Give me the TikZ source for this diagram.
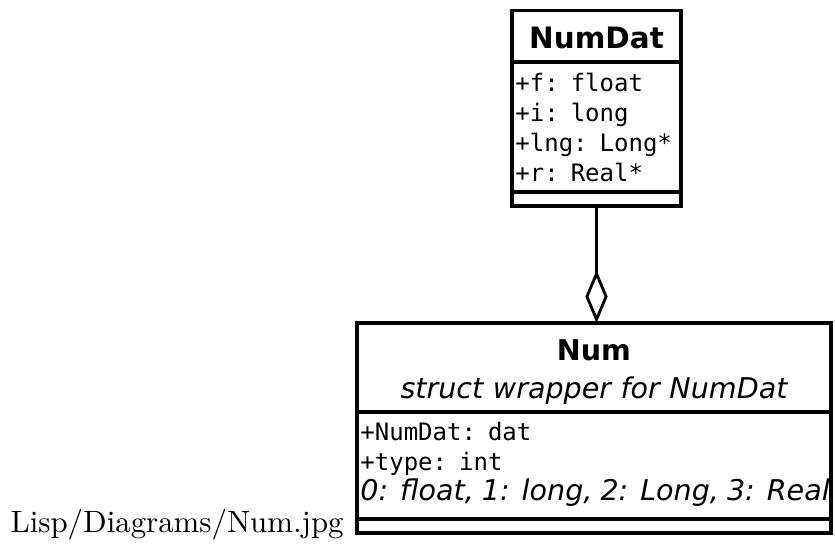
\documentclass[tikz,border=0pt]{standalone}
\usepackage{fontspec}
\newfontfamily\umlsans{DejaVu Sans}
\newfontfamily\umlmono{DejaVu Sans Mono}
\usetikzlibrary{arrows.meta, positioning}
\tikzset{
  classbox/.style={
    rectangle,
    draw=black,
    line width=1.3pt,
    outer sep=0pt,
    inner xsep=1.2pt,
    inner ysep=0pt
  },
  classname/.style={
    classbox,
    align=center,
    font=\umlsans\bfseries\fontsize{10}{13.3}\selectfont
  },
  classattr/.style={
    classbox,
    align=left,
    font=\umlmono\fontsize{8.4}{10.45}\selectfont
  },
  aggregation/.style={
    line width=1pt,
    -{Diamond[open, length=18.5pt, width=7.8pt]}
  }
}

\begin{document}
\begin{tikzpicture}
  \useasboundingbox (0,0) rectangle (292.25pt,-191.1pt);

  % NumDat
  \node[classname, font=\umlsans\bfseries\fontsize{10.3}{12}\selectfont, minimum width=59.15pt, text height=13.4pt, text depth=4.6pt, anchor=north] (numdat) at (208.78pt,-3.7pt) {NumDat};
  \node[classattr, text width=56.75pt, text height=10.3pt, text depth=35.2pt, anchor=north] (numdatattr) at (numdat.south) {
    +f: float\\
    +i: long\\
    +lng: Long*\\
    +r: Real*
  };
  \node[classbox, minimum width=59.15pt, minimum height=4.9pt, anchor=north] (numdatops) at (numdatattr.south) {};

  % Num
  \node[classname, text width=163.5pt, text height=12.95pt, text depth=18.2pt, anchor=north] (num) at (207.9pt,-113.05pt) {
    Num\\
    {\mdseries\itshape struct wrapper for NumDat}
  };
  \node[classattr, text width=163.5pt, text height=10.1pt, text depth=27.35pt, anchor=north] (numattr) at (num.south) {
    +NumDat: dat\\
    +type: int\\
    \mbox{\umlsans\itshape\fontsize{10}{10.45}\selectfont 0: float, 1: long, 2: Long, 3: Real}
  };
  \node[classbox, minimum width=165.9pt, minimum height=4.9pt, anchor=north] (numops) at (numattr.south) {};

  \draw[aggregation] (numdatops.south) -- (numdatops.south |- num.north);

  \node[anchor=base west, inner sep=0pt, font=\fontsize{10.8}{13}\selectfont] (caption) at (3.5pt,-186.2pt) {Lisp/Diagrams/Num.jpg};
\end{tikzpicture}
\end{document}
